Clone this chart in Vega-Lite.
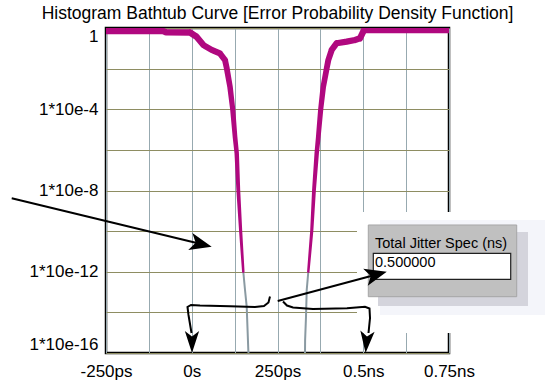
{
  "$schema": "https://vega.github.io/schema/vega-lite/v6.json",
  "width": 343,
  "height": 325,
  "autosize": {"type": "none"},
  "padding": {"left": 106, "top": 28, "right": 107, "bottom": 30},
  "background": "white",
  "title": {
    "text": "Histogram Bathtub Curve [Error Probability Density Function]",
    "font": "Liberation Sans",
    "fontSize": 17.5,
    "fontWeight": "normal",
    "color": "black",
    "anchor": "middle",
    "offset": 5
  },
  "config": {
    "view": {"stroke": "black", "strokeWidth": 2.5},
    "font": "Liberation Sans"
  },
  "datasets": {
    "curve": [
      {"branch": "L", "part": "pdf", "i": 1, "ps": -250, "log10p": -0.15},
      {"branch": "L", "part": "pdf", "i": 2, "ps": -84, "log10p": -0.15},
      {"branch": "L", "part": "pdf", "i": 3, "ps": -75, "log10p": -0.21},
      {"branch": "L", "part": "pdf", "i": 4, "ps": -5, "log10p": -0.22},
      {"branch": "L", "part": "pdf", "i": 5, "ps": 14, "log10p": -0.43},
      {"branch": "L", "part": "pdf", "i": 6, "ps": 34, "log10p": -0.84},
      {"branch": "L", "part": "pdf", "i": 7, "ps": 58, "log10p": -1.08},
      {"branch": "L", "part": "pdf", "i": 8, "ps": 82, "log10p": -1.25},
      {"branch": "L", "part": "pdf", "i": 9, "ps": 97, "log10p": -1.58},
      {"branch": "L", "part": "pdf", "i": 10, "ps": 102, "log10p": -1.98},
      {"branch": "L", "part": "pdf", "i": 11, "ps": 111.5, "log10p": -2.89},
      {"branch": "L", "part": "pdf", "i": 12, "ps": 119.4, "log10p": -4.0},
      {"branch": "L", "part": "pdf", "i": 13, "ps": 126.1, "log10p": -5.35},
      {"branch": "L", "part": "pdf", "i": 14, "ps": 131.1, "log10p": -6.17},
      {"branch": "L", "part": "pdf", "i": 15, "ps": 135.7, "log10p": -7.98},
      {"branch": "L", "part": "pdf", "i": 16, "ps": 142.7, "log10p": -10.03},
      {"branch": "L", "part": "pdf", "i": 17, "ps": 150.3, "log10p": -12.0},
      {"branch": "L", "part": "tail", "i": 1, "ps": 150.3, "log10p": -12.0},
      {"branch": "L", "part": "tail", "i": 2, "ps": 155.3, "log10p": -12.9},
      {"branch": "L", "part": "tail", "i": 3, "ps": 160.2, "log10p": -13.72},
      {"branch": "L", "part": "tail", "i": 4, "ps": 164.9, "log10p": -15.86},
      {"branch": "L", "part": "tail", "i": 5, "ps": 165.4, "log10p": -16.0},
      {"branch": "R", "part": "tail", "i": 1, "ps": 330.2, "log10p": -16.0},
      {"branch": "R", "part": "tail", "i": 2, "ps": 330.5, "log10p": -15.36},
      {"branch": "R", "part": "tail", "i": 3, "ps": 333.1, "log10p": -14.21},
      {"branch": "R", "part": "tail", "i": 4, "ps": 335.2, "log10p": -12.9},
      {"branch": "R", "part": "tail", "i": 5, "ps": 339.8, "log10p": -12.0},
      {"branch": "R", "part": "pdf", "i": 1, "ps": 339.8, "log10p": -12.0},
      {"branch": "R", "part": "pdf", "i": 2, "ps": 349.7, "log10p": -10.03},
      {"branch": "R", "part": "pdf", "i": 3, "ps": 356.4, "log10p": -7.98},
      {"branch": "R", "part": "pdf", "i": 4, "ps": 364.3, "log10p": -6.17},
      {"branch": "R", "part": "pdf", "i": 5, "ps": 369.0, "log10p": -5.35},
      {"branch": "R", "part": "pdf", "i": 6, "ps": 376.0, "log10p": -4.0},
      {"branch": "R", "part": "pdf", "i": 7, "ps": 383.5, "log10p": -2.89},
      {"branch": "R", "part": "pdf", "i": 8, "ps": 393.5, "log10p": -1.98},
      {"branch": "R", "part": "pdf", "i": 9, "ps": 398.1, "log10p": -1.58},
      {"branch": "R", "part": "pdf", "i": 10, "ps": 408.0, "log10p": -1.08},
      {"branch": "R", "part": "pdf", "i": 11, "ps": 422.6, "log10p": -0.75},
      {"branch": "R", "part": "pdf", "i": 12, "ps": 451.8, "log10p": -0.67},
      {"branch": "R", "part": "pdf", "i": 13, "ps": 476.0, "log10p": -0.59},
      {"branch": "R", "part": "pdf", "i": 14, "ps": 490.5, "log10p": -0.51},
      {"branch": "R", "part": "pdf", "i": 15, "ps": 496.4, "log10p": -0.30},
      {"branch": "R", "part": "pdf", "i": 16, "ps": 502.2, "log10p": -0.1},
      {"branch": "R", "part": "pdf", "i": 17, "ps": 750, "log10p": -0.1}
    ],
    "boxes": [
      {"id": "glow", "ps": 481.8, "ps2": 1061.9, "log10p": -9.058, "log10p2": -15.016},
      {"id": "soft", "ps": 548.8, "ps2": 1029.9, "log10p": -9.452, "log10p2": -14.129},
      {"id": "shadow", "ps": 543.0, "ps2": 980.3, "log10p": -10.043, "log10p2": -13.686},
      {"id": "box", "ps": 514.7, "ps2": 947.4, "log10p": -9.698, "log10p2": -13.228},
      {"id": "field", "ps": 529.3, "ps2": 929.9, "log10p": -11.092, "log10p2": -12.372}
    ],
    "texts": [
      {"id": "t1", "text": "Total Jitter Spec (ns)", "ps": 534.2, "log10p": -10.634},
      {"id": "t2", "text": "0.500000", "ps": 534.2, "log10p": -11.545}
    ],
    "notes": [
      {"id": "long", "i": 1, "ps": -524.9, "log10p": -8.384},
      {"id": "long", "i": 2, "ps": 32.8, "log10p": -10.659},
      {"id": "tobox", "i": 1, "ps": 250.6, "log10p": -13.44},
      {"id": "tobox", "i": 2, "ps": 525.5, "log10p": -12.199},
      {"id": "bl", "i": 1, "ps": 228.1, "log10p": -13.219},
      {"id": "bl", "i": 2, "ps": 223.7, "log10p": -13.514},
      {"id": "bl", "i": 3, "ps": 210.6, "log10p": -13.686},
      {"id": "bl", "i": 4, "ps": 184.4, "log10p": -13.735},
      {"id": "bl", "i": 5, "ps": 111.5, "log10p": -13.701},
      {"id": "bl", "i": 6, "ps": 24.1, "log10p": -13.662},
      {"id": "bl", "i": 7, "ps": -2.2, "log10p": -13.637},
      {"id": "bl", "i": 8, "ps": -12.4, "log10p": -13.735},
      {"id": "bl", "i": 9, "ps": -9.5, "log10p": -14.129},
      {"id": "bl", "i": 10, "ps": -0.7, "log10p": -15.016},
      {"id": "br", "i": 1, "ps": 266.0, "log10p": -13.465},
      {"id": "br", "i": 2, "ps": 277.7, "log10p": -13.662},
      {"id": "br", "i": 3, "ps": 295.2, "log10p": -13.76},
      {"id": "br", "i": 4, "ps": 353.5, "log10p": -13.834},
      {"id": "br", "i": 5, "ps": 452.6, "log10p": -13.799},
      {"id": "br", "i": 6, "ps": 505.1, "log10p": -13.721},
      {"id": "br", "i": 7, "ps": 518.2, "log10p": -13.809},
      {"id": "br", "i": 8, "ps": 519.7, "log10p": -14.277},
      {"id": "br", "i": 9, "ps": 515.3, "log10p": -15.016}
    ],
    "heads": [
      {"id": "long", "ps": 27.0, "log10p": -10.639},
      {"id": "tobox", "ps": 537.5, "log10p": -12.135},
      {"id": "bl", "ps": 0.7, "log10p": -15.459},
      {"id": "br", "ps": 509.5, "log10p": -15.459}
    ]
  },
  "encoding": {
    "x": {
      "field": "ps",
      "type": "quantitative",
      "scale": {"domain": [-250, 750], "nice": false, "zero": false},
      "axis": {
        "title": null,
        "values": [-250, -125, 0, 125, 250, 375, 500, 625, 750],
        "labelExpr": "datum.value == -250 ? '-250ps' : datum.value == 0 ? '0s' : datum.value == 250 ? '250ps' : datum.value == 500 ? '0.5ns' : datum.value == 750 ? '0.75ns' : ''",
        "labelFont": "Liberation Sans",
        "labelFontSize": 17,
        "labelColor": "black",
        "labelPadding": 10,
        "labelOverlap": false,
        "labelBound": false,
        "labelFlush": false,
        "ticks": false,
        "domain": false,
        "grid": true,
        "gridColor": "#97a9b0",
        "gridWidth": 1,
        "gridOpacity": 1
      }
    },
    "y": {
      "field": "log10p",
      "type": "quantitative",
      "scale": {"domain": [-16, 0], "nice": false, "zero": false},
      "axis": {
        "title": null,
        "values": [-16, -14, -12, -10, -8, -6, -4, -2, 0],
        "labelExpr": "datum.value == 0 ? '1' : datum.value % 4 == 0 ? '1*10e' + datum.value : ''",
        "labelFont": "Liberation Sans",
        "labelFontSize": 17,
        "labelColor": "black",
        "labelPadding": 8,
        "labelOverlap": false,
        "labelFlush": true,
        "ticks": false,
        "domain": false,
        "grid": true,
        "gridColor": "#8e8d62",
        "gridWidth": 1,
        "gridOpacity": 1
      }
    }
  },
  "layer": [
    {
      "data": {"name": "curve"},
      "transform": [{"filter": "datum.part == 'tail'"}],
      "mark": {"type": "line", "color": "#8a9aa2", "strokeWidth": 2},
      "encoding": {"detail": {"field": "branch"}, "order": {"field": "i", "type": "quantitative"}}
    },
    {
      "data": {"name": "curve"},
      "transform": [{"filter": "datum.part == 'pdf'"}],
      "mark": {"type": "trail", "color": "#b0087f", "clip": true},
      "encoding": {
        "detail": {"field": "branch"},
        "order": {"field": "i", "type": "quantitative"},
        "size": {"field": "log10p", "type": "quantitative", "scale": {"domain": [-12, 0], "range": [2.5, 6.5], "zero": false}, "legend": null}
      }
    },
    {
      "data": {"name": "boxes"},
      "transform": [{"filter": "datum.id == 'glow'"}],
      "mark": {"type": "rect", "color": "#ffffff", "opacity": 1},
      "encoding": {"x2": {"field": "ps2"}, "y2": {"field": "log10p2"}}
    },
    {
      "data": {"name": "boxes"},
      "transform": [{"filter": "datum.id == 'soft'"}],
      "mark": {"type": "rect", "color": "#f4f5fa", "opacity": 1},
      "encoding": {"x2": {"field": "ps2"}, "y2": {"field": "log10p2"}}
    },
    {
      "data": {"name": "boxes"},
      "transform": [{"filter": "datum.id == 'shadow'"}],
      "mark": {"type": "rect", "color": "#d4d4dc", "opacity": 1},
      "encoding": {"x2": {"field": "ps2"}, "y2": {"field": "log10p2"}}
    },
    {
      "data": {"name": "boxes"},
      "transform": [{"filter": "datum.id == 'box'"}],
      "mark": {"type": "rect", "fill": "#c0c0c0", "stroke": "#a6a6a6", "strokeWidth": 1, "opacity": 1},
      "encoding": {"x2": {"field": "ps2"}, "y2": {"field": "log10p2"}}
    },
    {
      "data": {"name": "boxes"},
      "transform": [{"filter": "datum.id == 'field'"}],
      "mark": {"type": "rect", "fill": "#ffffff", "stroke": "#202020", "strokeWidth": 1.2, "opacity": 1},
      "encoding": {"x2": {"field": "ps2"}, "y2": {"field": "log10p2"}}
    },
    {
      "data": {"name": "texts"},
      "mark": {"type": "text", "align": "left", "baseline": "middle", "font": "Liberation Sans", "fontSize": 14.5, "color": "black"},
      "encoding": {"text": {"field": "text"}}
    },
    {
      "data": {"name": "notes"},
      "mark": {"type": "line", "color": "black", "strokeWidth": 2},
      "encoding": {"detail": {"field": "id"}, "order": {"field": "i", "type": "quantitative"}}
    },
    {
      "data": {"name": "heads"},
      "transform": [{"filter": "datum.id == 'long'"}],
      "mark": {"type": "point", "shape": "M1,0L-1,-0.8L-0.5,0L-1,0.8Z", "size": 484, "angle": 13.6, "filled": true, "color": "black", "opacity": 1, "strokeWidth": 0}
    },
    {
      "data": {"name": "heads"},
      "transform": [{"filter": "datum.id == 'tobox'"}],
      "mark": {"type": "point", "shape": "M1,0L-1,-0.8L-0.5,0L-1,0.8Z", "size": 484, "angle": -15, "filled": true, "color": "black", "opacity": 1, "strokeWidth": 0}
    },
    {
      "data": {"name": "heads"},
      "transform": [{"filter": "datum.id == 'bl'"}],
      "mark": {"type": "point", "shape": "M1,0L-1,-0.65L-0.5,0L-1,0.65Z", "size": 484, "angle": 90, "filled": true, "color": "black", "opacity": 1, "strokeWidth": 0}
    },
    {
      "data": {"name": "heads"},
      "transform": [{"filter": "datum.id == 'br'"}],
      "mark": {"type": "point", "shape": "M1,0L-1,-0.65L-0.5,0L-1,0.65Z", "size": 484, "angle": 95, "filled": true, "color": "black", "opacity": 1, "strokeWidth": 0}
    }
  ]
}
